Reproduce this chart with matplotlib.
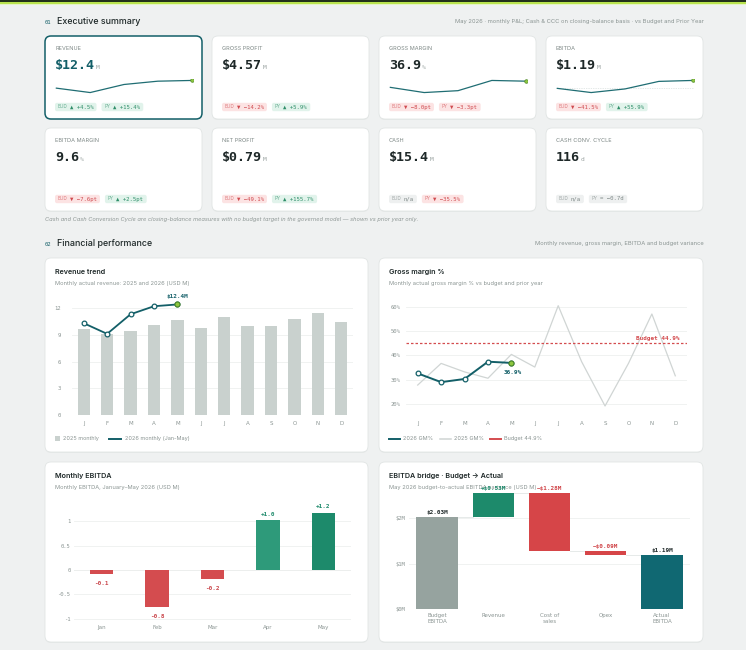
import matplotlib.pyplot as plt
from matplotlib.patches import FancyBboxPatch, Rectangle

W, H = 746, 650
SANS = ['Inter', 'DejaVu Sans']
MONO = ['DejaVu Sans Mono', 'DejaVu Sans']
TEAL = '#135f68'
LIME = '#8dc63f'
RED = '#d44c4f'
GREEN = '#1d8a6b'
INK = '#1e2828'
MUTED = '#8b9593'
BG = '#eff1f1'

# ---- data ----
months = ['J', 'F', 'M', 'A', 'M', 'J', 'J', 'A', 'S', 'O', 'N', 'D']
rev_2025 = [9.7, 9.1, 9.4, 10.1, 10.6, 9.8, 11.0, 10.0, 10.0, 10.8, 11.4, 10.4]
rev_2026 = [10.3, 9.1, 11.3, 12.2, 12.4]
gm_2025 = [27.8, 36.7, 33.2, 30.6, 40.4, 35.2, 60.4, 37.4, 19.2, 36.7, 57.0, 31.6]
gm_2026 = [32.6, 29.0, 30.3, 37.4, 36.9]
gm_budget = 44.9
ebitda_months = ['Jan', 'Feb', 'Mar', 'Apr', 'May']
ebitda_2026 = [-0.09, -0.76, -0.18, 1.03, 1.18]
ebitda_labels = ['-0.1', '-0.8', '-0.2', '+1.0', '+1.2']
bridge_cats = ['Budget\nEBITDA', 'Revenue', 'Cost of\nsales', 'Opex', 'Actual\nEBITDA']
bridge_budget = 2.03
bridge_steps = [0.53, -1.28, -0.09]
bridge_actual = 1.19
bridge_text = ['$2.03M', '+$0.53M', '\u2212$1.28M', '\u2212$0.09M', '$1.19M']

kpi_names = ['REVENUE', 'GROSS PROFIT', 'GROSS MARGIN', 'EBITDA',
             'EBITDA MARGIN', 'NET PROFIT', 'CASH', 'CASH CONV. CYCLE']
kpi_values = ['$12.4', '$4.57', '36.9', '$1.19', '9.6', '$0.79', '$15.4', '116']
kpi_units = ['M', 'M', '%', 'M', '%', 'M', 'M', 'd']
kpi_bud = ['\u25b2 +4.5%', '\u25bc \u221214.2%', '\u25bc \u22128.0pt', '\u25bc \u221241.5%',
           '\u25bc \u22127.6pt', '\u25bc \u221249.1%', 'n/a', 'n/a']
kpi_py = ['\u25b2 +15.4%', '\u25b2 +5.9%', '\u25bc \u22123.3pt', '\u25b2 +55.9%',
          '\u25b2 +2.5pt', '\u25b2 +155.7%', '\u25bc \u221235.5%', '= \u22120.7d']
sparks = {0: rev_2026, 2: gm_2026, 3: ebitda_2026}

fig = plt.figure(figsize=(W / 100, H / 100), dpi=100)
fig.patch.set_facecolor(BG)
bg = fig.add_axes([0, 0, 1, 1])
bg.set_xlim(0, W)
bg.set_ylim(H, 0)
bg.axis('off')


def px_axes(l, t, r, b):
    ax = fig.add_axes([l / W, 1 - b / H, (r - l) / W, (b - t) / H])
    ax.set_facecolor('none')
    return ax


def card(x, y, w, h, ec='#e1e5e4', lw=0.6):
    bg.add_patch(FancyBboxPatch((x, y + 1), w, h, boxstyle='round,pad=0,rounding_size=6',
                                fc='#e6e9e8', ec='none'))
    bg.add_patch(FancyBboxPatch((x, y), w, h, boxstyle='round,pad=0,rounding_size=6',
                                fc='white', ec=ec, lw=lw))


def badge(x, y, prefix, val):
    if '\u25b2' in val:
        fc, col = '#e1f3eb', '#2f8e69'
    elif '\u25bc' in val:
        fc, col = '#fce3e3', '#cf4a4f'
    else:
        fc, col = '#eef0f0', '#7d8786'
    fs = 4.1
    cw = 0.6 * fs * 1.389
    pw = 3.2 * len(prefix)
    w = 3 + pw + 2 + cw * len(val) + 3
    bg.add_patch(FancyBboxPatch((x, y - 4.2), w, 8.4, boxstyle='round,pad=0,rounding_size=2',
                                fc=fc, ec='none'))
    bg.text(x + 3, y, prefix, fontsize=3.4, family=SANS, color=col, alpha=0.65, va='center')
    bg.text(x + 3 + pw + 2, y, val, fontsize=fs, family=MONO, color=col, va='center')
    return x + w + 5


def style_axes(ax, xpad=5, ypad=7):
    for s in ax.spines.values():
        s.set_visible(False)
    ax.tick_params(length=0, labelsize=4, colors=MUTED)
    ax.tick_params(axis='x', pad=xpad)
    ax.tick_params(axis='y', pad=ypad)
    ax.grid(axis='y', color='#eef0ef', lw=0.6)
    ax.set_axisbelow(True)
    for lab in ax.get_yticklabels():
        lab.set_family(MONO)


# top bar
bg.add_patch(Rectangle((0, 0), W, 1.6, fc='#22321a', ec='none'))
bg.add_patch(Rectangle((0, 1.6), W, 2.2, fc='#b9e44f', ec='none'))
bg.add_patch(Rectangle((0, 3.8), W, 1.5, fc='#e6f5c4', ec='none'))

# section 1 header
bg.text(45, 22, '01', fontsize=4, family=MONO, color=TEAL, va='center')
bg.text(57, 22, 'Executive summary', fontsize=6.4, family=SANS, weight='medium', color=INK, va='center')
bg.text(704, 22, 'May 2026 \u00b7 monthly P&L; Cash & CCC on closing-balance basis \u00b7 vs Budget and Prior Year',
        fontsize=4.2, family=SANS, color=MUTED, va='center', ha='right')

for i in range(8):
    x = 45 + (i % 4) * 167
    y = 36 if i < 4 else 128
    if i == 0:
        card(x, y, 157, 83, ec=TEAL, lw=1.1)
    else:
        card(x, y, 157, 83)
    bg.text(x + 10, y + 12.5, kpi_names[i], fontsize=4, family=SANS, color='#7f8987', va='center')
    bg.text(x + 10, y + 33, kpi_values[i], fontsize=9.6, family=MONO, weight='bold',
            color=TEAL if i == 0 else INK, va='baseline')
    vw = 0.6 * 9.6 * 1.389 * len(kpi_values[i])
    bg.text(x + 11 + vw, y + 33, kpi_units[i], fontsize=4.5, family=MONO, color='#9aa3a1', va='baseline')
    nx = badge(x + 10, y + 71, 'BUD', kpi_bud[i])
    badge(nx, y + 71, 'PY', kpi_py[i])
    if i in sparks:
        sp = px_axes(x + 10, y + 43, x + 148, y + 58)
        vals = sparks[i]
        sp.plot(range(len(vals)), vals, color='#1f6d73', lw=0.9)
        sp.plot(len(vals) - 1, vals[-1], 'o', ms=2.6, mfc=LIME, mec='#4f8a2a', mew=0.5)
        if i == 3:
            sp.axhline(0, color='#c9d3d1', lw=0.5, ls=(0, (1, 1.5)), zorder=0)
        sp.margins(x=0.01, y=0.12)
        sp.axis('off')

bg.text(45, 219, 'Cash and Cash Conversion Cycle are closing-balance measures with no budget target in the '
        'governed model \u2014 shown vs prior year only.', fontsize=4.1, family=SANS, style='italic',
        color='#8f9896', va='center')

# section 2 header
bg.text(45, 244, '02', fontsize=4, family=MONO, color=TEAL, va='center')
bg.text(57, 244, 'Financial performance', fontsize=6.4, family=SANS, weight='medium', color=INK, va='center')
bg.text(704, 244, 'Monthly revenue, gross margin, EBITDA and budget variance',
        fontsize=4.2, family=SANS, color=MUTED, va='center', ha='right')

panels = [(45, 258, 323, 194, 'Revenue trend', 'Monthly actual revenue: 2025 and 2026 (USD M)'),
          (379, 258, 324, 194, 'Gross margin %', 'Monthly actual gross margin % vs budget and prior year'),
          (45, 462, 323, 180, 'Monthly EBITDA', 'Monthly EBITDA, January\u2013May 2026 (USD M)'),
          (379, 462, 324, 180, 'EBITDA bridge \u00b7 Budget \u2192 Actual',
           'May 2026 budget-to-actual EBITDA variance (USD M)')]
for x, y, w, h, t, s in panels:
    card(x, y, w, h)
    bg.text(x + 10, y + 14, t, fontsize=5.2, family=SANS, weight='semibold', color=INK, va='center')
    bg.text(x + 10, y + 25, s, fontsize=4.1, family=SANS, color=MUTED, va='center')

# ---- revenue trend ----
ax = px_axes(72, 295, 353, 415)
xs = range(len(months))
ax.bar(xs, rev_2025, width=0.53, color='#c9d1ce')
x26 = range(len(rev_2026))
ax.plot(x26, rev_2026, color=TEAL, lw=1.3, marker='o', ms=3.4, mfc='white', mec=TEAL, mew=0.9)
ax.plot(x26[-1], rev_2026[-1], 'o', ms=3.6, mfc=LIME, mec='#4f8a2a', mew=0.8)
ax.annotate('$12.4M', (x26[-1], rev_2026[-1]), xytext=(0, 5), textcoords='offset points',
            ha='center', fontsize=4.3, family=MONO, weight='bold', color=TEAL)
ax.set_xlim(-0.5, 11.5)
ax.set_ylim(0, 13.46)
ax.set_yticks([0, 3, 6, 9, 12])
ax.set_xticks(list(xs))
ax.set_xticklabels(months)
style_axes(ax, xpad=4, ypad=8)

bg.add_patch(Rectangle((55, 436), 5, 5, fc='#c9d1ce', ec='none'))
bg.text(63, 438.5, '2025 monthly', fontsize=4, family=SANS, color=MUTED, va='center')
bg.plot([109, 121], [438.5, 438.5], color=TEAL, lw=1.4)
bg.text(125, 438.5, '2026 monthly (Jan-May)', fontsize=4, family=SANS, color=MUTED, va='center')

# ---- gross margin ----
ax = px_axes(406, 295, 687, 415)
ax.plot(xs, gm_2025, color='#d0d5d4', lw=0.9)
ax.axhline(gm_budget, color=RED, lw=0.9, ls=(0, (2, 1.6)))
ax.plot(x26, gm_2026, color=TEAL, lw=1.4, marker='o', ms=3.4, mfc='white', mec=TEAL, mew=0.9)
ax.plot(x26[-1], gm_2026[-1], 'o', ms=3.6, mfc=LIME, mec='#4f8a2a', mew=0.8)
ax.annotate('36.9%', (x26[-1], gm_2026[-1]), xytext=(1, -8), textcoords='offset points',
            ha='center', fontsize=4.3, family=MONO, weight='bold', color=TEAL)
ax.annotate('Budget 44.9%', (11.2, gm_budget), xytext=(0, 2.5), textcoords='offset points',
            ha='right', fontsize=4.3, family=MONO, weight='bold', color=RED)
ax.set_xlim(-0.5, 11.5)
ax.set_ylim(15.5, 64.8)
ax.set_yticks([20, 30, 40, 50, 60])
ax.set_yticklabels(['20%', '30%', '40%', '50%', '60%'])
ax.set_xticks(list(xs))
ax.set_xticklabels(months)
style_axes(ax, xpad=4, ypad=4)

bg.plot([389, 400], [438.5, 438.5], color=TEAL, lw=1.4)
bg.text(403, 438.5, '2026 GM%', fontsize=4, family=SANS, color=MUTED, va='center')
bg.plot([440, 451], [438.5, 438.5], color='#cfd4d3', lw=1.1)
bg.text(454, 438.5, '2025 GM%', fontsize=4, family=SANS, color=MUTED, va='center')
bg.plot([490, 501], [438.5, 438.5], color=RED, lw=1.4)
bg.text(504, 438.5, 'Budget 44.9%', fontsize=4, family=SANS, color=MUTED, va='center')

# ---- monthly EBITDA ----
ax = px_axes(74, 505, 351, 622)
ex = range(len(ebitda_months))
cols = [RED if v < 0 else '#2e9a7a' for v in ebitda_2026]
cols[-1] = GREEN
ax.bar(ex, ebitda_2026, width=0.42, color=cols)
ax.axhline(0, color='#e3e7e6', lw=0.7, zorder=0)
for i, v in enumerate(ebitda_2026):
    off = 3 if v > 0 else -8
    ax.annotate(ebitda_labels[i], (i, v), xytext=(0, off), textcoords='offset points', ha='center',
                fontsize=4.3, family=MONO, weight='bold', color=GREEN if v > 0 else '#c9454a')
ax.set_xlim(-0.5, 4.5)
ax.set_ylim(-1.07, 1.335)
ax.set_yticks([-1, -0.5, 0, 0.5, 1])
ax.set_yticklabels(['-1', '-0.5', '0', '0.5', '1'])
ax.set_xticks(list(ex))
ax.set_xticklabels(ebitda_months)
style_axes(ax, xpad=2.5, ypad=2.5)

# ---- EBITDA bridge ----
ax = px_axes(409, 486, 690, 609)
bottoms = [0]
heights = [bridge_budget]
level = bridge_budget
for s in bridge_steps:
    new = level + s
    bottoms.append(min(level, new))
    heights.append(abs(s))
    level = new
bottoms.append(0)
heights.append(bridge_actual)
bcols = ['#96a39f', GREEN, '#d64548', '#d64548', '#106872']
bx = range(len(bridge_cats))
ax.bar(bx, heights, bottom=bottoms, width=0.74, color=bcols)
lvls = [bridge_budget]
for s in bridge_steps:
    lvls.append(lvls[-1] + s)
for i, lv in enumerate(lvls):
    ax.plot([i + 0.37, i + 0.63], [lv, lv], color='#e2e6e5', lw=0.6, zorder=0)
tcols = [INK, GREEN, '#d04448', '#d04448', INK]
for i in bx:
    ax.annotate(bridge_text[i], (i, bottoms[i] + heights[i]), xytext=(0, 2.5), textcoords='offset points',
                ha='center', fontsize=4.3, family=MONO, weight='bold', color=tcols[i])
ax.set_xlim(-0.5, 4.5)
ax.set_ylim(0, 2.715)
ax.set_yticks([0, 1, 2])
ax.set_yticklabels(['$0M', '$1M', '$2M'])
ax.set_xticks(list(bx))
ax.set_xticklabels(bridge_cats, linespacing=1.1)
style_axes(ax, xpad=3, ypad=2.5)

fig.savefig('out.png', dpi=100, facecolor=BG)
